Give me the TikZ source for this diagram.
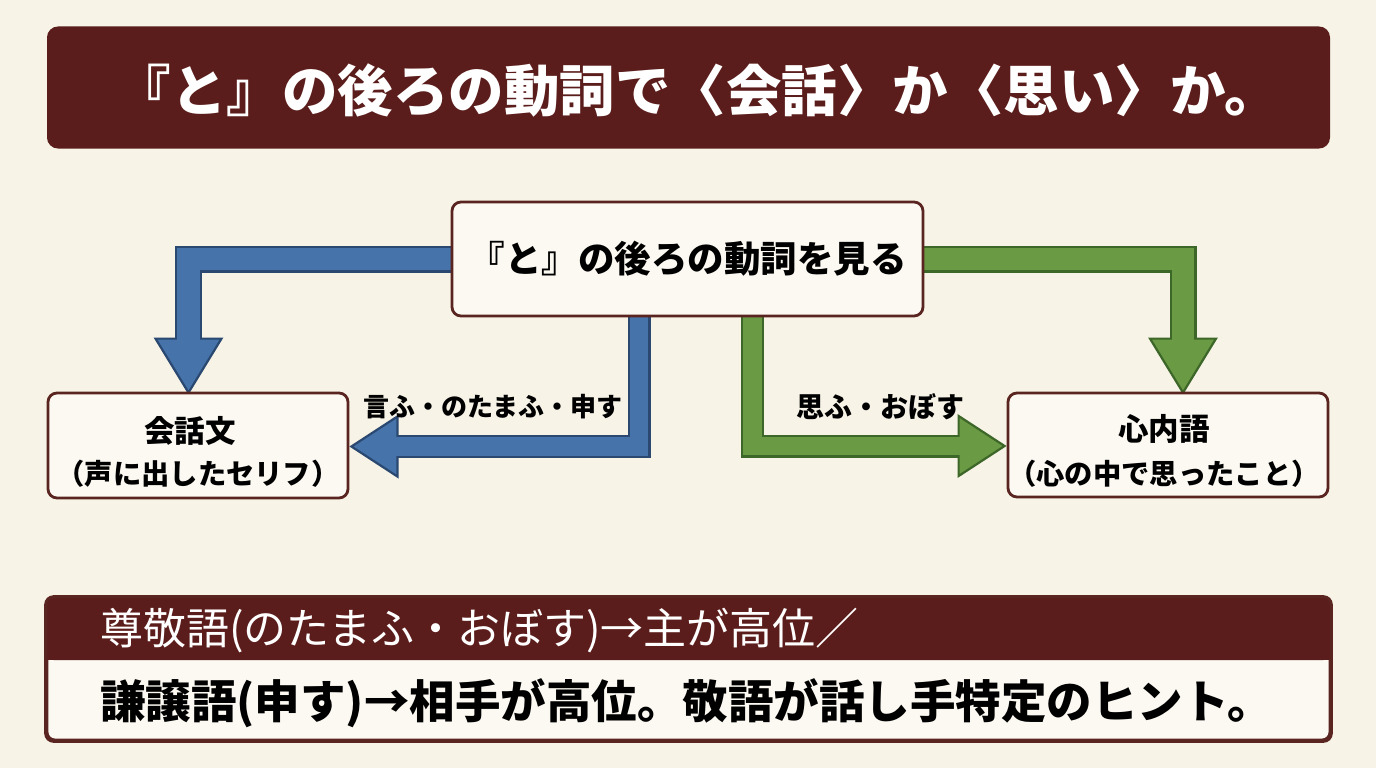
\documentclass[tikz,border=0pt]{standalone}
\usepackage{fontspec}
\setmainfont{Noto Sans CJK JP}
\usetikzlibrary{calc}
\pgfdeclarelayer{paper}
\pgfdeclarelayer{arrows}
\pgfsetlayers{paper,arrows,main}
\definecolor{paper}{HTML}{F7F3E7}
\definecolor{boxfill}{HTML}{FCF9F2}
\definecolor{boxline}{HTML}{5A2520}
\definecolor{maroon}{HTML}{5B1D1B}
\definecolor{blueF}{HTML}{4673AA}
\definecolor{blueD}{HTML}{2A4870}
\definecolor{greenF}{HTML}{6A9A44}
\definecolor{greenD}{HTML}{3D6629}
\begin{document}
\begin{tikzpicture}[x=1pt,y=-1pt,
  box/.style={draw=boxline, fill=boxfill, line width=2.8pt, rounded corners=9pt, inner sep=0pt},
  titlefont/.style={font=\fontsize{55.5pt}{60pt}\selectfont\bfseries, text=white, inner sep=0pt},
  centerfont/.style={font=\fontsize{36.5pt}{40pt}\selectfont\bfseries},
  headfont/.style={font=\fontsize{30.5pt}{36pt}\selectfont\bfseries, inner sep=0pt},
  subfont/.style={font=\fontsize{28.3pt}{32pt}\selectfont\bfseries, inner sep=0pt},
  labfont/.style={font=\fontsize{26pt}{30pt}\selectfont\bfseries, inner sep=0pt},
  botA/.style={font=\fontsize{43pt}{48pt}\selectfont, text=white, inner sep=0pt, anchor=west},
  botB/.style={font=\fontsize{45.5pt}{50pt}\selectfont\bfseries, text=black, inner sep=0pt, anchor=west},
  shaftout/.style={line join=miter, line cap=butt},
  head/.style={line width=2.2pt, line join=miter}
]
\useasboundingbox (0,0) rectangle (1376,768);
\begin{pgfonlayer}{paper}
  \fill[paper] (0,0) rectangle (1376,768);
\end{pgfonlayer}

% title
\node[fill=maroon, draw=maroon, line width=2pt, rounded corners=10pt, minimum width=1281pt, minimum height=120pt, inner sep=0pt] (bar) at (688.5,87.5) {};
\node[titlefont] (ttl) at (698,90) {『と』の後ろの動詞で〈会話〉か〈思い〉か。};

% boxes
\node[box, centerfont, minimum width=471pt, minimum height=114pt] (c) at (687.5,259) {『と』の後ろの動詞を見る};
\node[box, minimum width=300pt, minimum height=105pt] (L) at (198,445.5) {};
\node[headfont] (Lh) at (190,431) {会話文};
\node[subfont] (Ls) at (198,474) {（声に出したセリフ）};
\node[box, minimum width=320pt, minimum height=104pt] (R) at (1168,445) {};
\node[headfont] (Rh) at (1164,429) {心内語};
\node[subfont] (Rs) at (1164,474) {（心の中で思ったこと）};

% labels
\node[labfont] (lb1) at (493,407) {言ふ・のたまふ・申す};
\node[labfont, font=\fontsize{28pt}{32pt}\selectfont\bfseries] (lb2) at (880,407) {思ふ・おぼす};

% arrows
\begin{pgfonlayer}{arrows}
  % blue: to 会話文 (top)
  \coordinate (b1tip) at ($(L.north)+(-9.5,1)$);
  \coordinate (b1base) at ($(b1tip)+(0,-54)$);
  \coordinate (b1in) at ($(b1tip)+(0,-50)$);
  \draw[shaftout, draw=blueD, line width=27pt] (c.west) -| (b1base);
  \filldraw[head, fill=blueF, draw=blueD] (b1tip) -- ($(b1base)+(-33,0)$) -- ($(b1base)+(33,0)$) -- cycle;
  \draw[shaftout, draw=blueF, line width=22.4pt] (c.west) -| (b1in);
  % blue: lower, to 会話文 (side)
  \coordinate (b2s) at ($(c.south)+(-48.5,0)$);
  \coordinate (b2tip) at ($(L.east)+(2,1)$);
  \coordinate (b2base) at ($(b2tip)+(46,0)$);
  \coordinate (b2in) at ($(b2tip)+(42,0)$);
  \draw[shaftout, draw=blueD, line width=23pt] (b2s) |- (b2base);
  \filldraw[head, fill=blueF, draw=blueD] (b2tip) -- ($(b2base)+(0,-30)$) -- ($(b2base)+(0,30)$) -- cycle;
  \draw[shaftout, draw=blueF, line width=18.4pt] (b2s) |- (b2in);
  % green: to 心内語 (top)
  \coordinate (g1tip) at ($(R.north)+(15,1)$);
  \coordinate (g1base) at ($(g1tip)+(0,-54)$);
  \coordinate (g1in) at ($(g1tip)+(0,-50)$);
  \draw[shaftout, draw=greenD, line width=27pt] (c.east) -| (g1base);
  \filldraw[head, fill=greenF, draw=greenD] (g1tip) -- ($(g1base)+(-33,0)$) -- ($(g1base)+(33,0)$) -- cycle;
  \draw[shaftout, draw=greenF, line width=22.4pt] (c.east) -| (g1in);
  % green: lower, to 心内語 (side)
  \coordinate (g2s) at ($(c.south)+(65,0)$);
  \coordinate (g2tip) at ($(R.west)+(-2,1)$);
  \coordinate (g2base) at ($(g2tip)+(-46,0)$);
  \coordinate (g2in) at ($(g2tip)+(-42,0)$);
  \draw[shaftout, draw=greenD, line width=23pt] (g2s) |- (g2base);
  \filldraw[head, fill=greenF, draw=greenD] (g2tip) -- ($(g2base)+(0,-30)$) -- ($(g2base)+(0,30)$) -- cycle;
  \draw[shaftout, draw=greenF, line width=18.4pt] (g2s) |- (g2in);
\end{pgfonlayer}

% bottom box
\node[box, rounded corners=8pt, minimum width=1283pt, minimum height=142pt] (bot) at (688.5,669) {};
\fill[maroon, rounded corners=8pt] (bot.north west) rectangle (bot.east |- 0,660);
\fill[maroon] (bot.west |- 0,630) rectangle (bot.east |- 0,660);
\draw[boxline, line width=2.8pt, rounded corners=8pt] (bot.north west) rectangle (bot.south east);
\node[botA] (bt1) at (100,631) {尊敬語(のたまふ・おぼす)→主が高位／};
\node[botB] (bt2) at (100,703) {謙譲語(申す)→相手が高位。敬語が話し手特定のヒント。};
\end{tikzpicture}
\end{document}
